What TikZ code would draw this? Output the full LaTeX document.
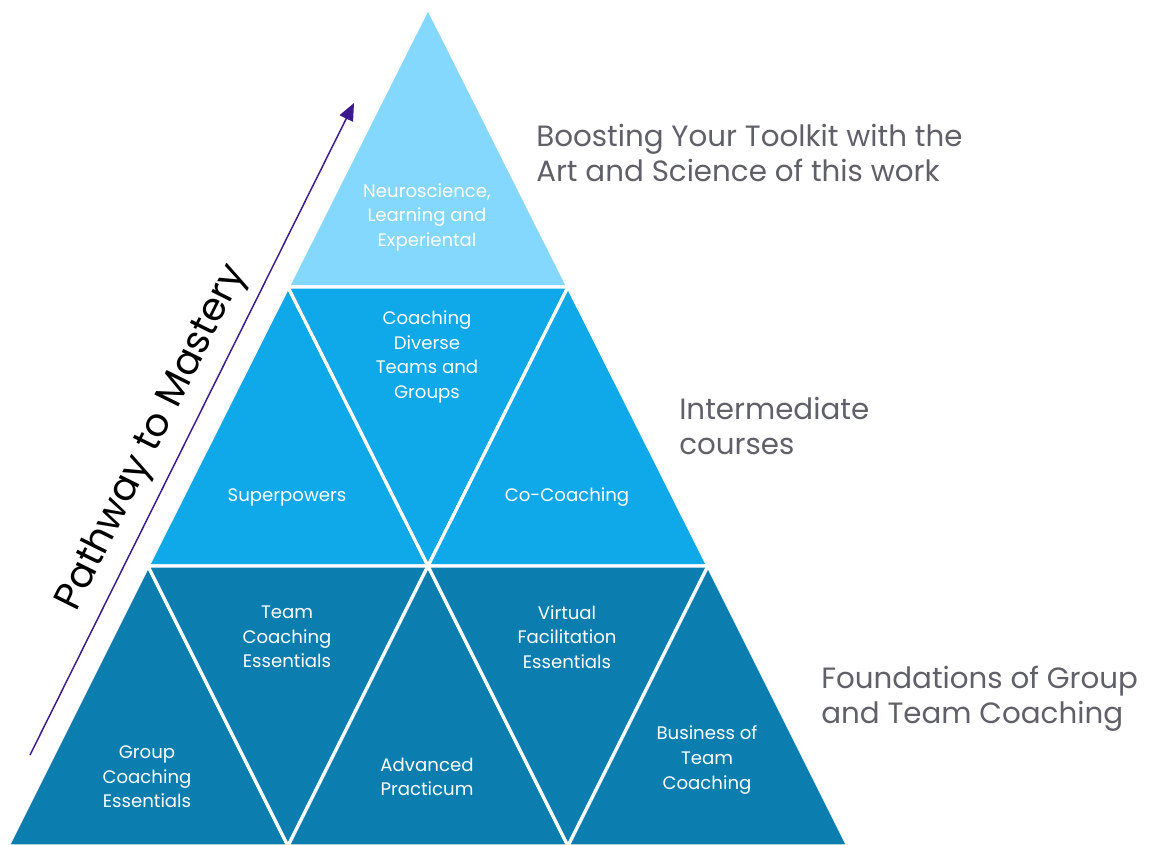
\documentclass[tikz,border=0pt]{standalone}
\usepackage{fontspec}
\setmainfont{Poppins}
\usetikzlibrary{arrows.meta}

\definecolor{tiptop}{HTML}{84D8FD}
\definecolor{midrow}{HTML}{0FA8E8}
\definecolor{baserow}{HTML}{0B7EAF}
\definecolor{sidegray}{HTML}{606168}
\definecolor{pathpurple}{HTML}{3A1A8C}

\begin{document}
\begin{tikzpicture}[x=0.75pt, y=-0.75pt,
    tri/.style={draw=white, line width=2.4pt, line join=round},
    course/.style={text=white, align=center, inner sep=0pt, font=\fontsize{13.6}{18.4}\selectfont},
    level/.style={text=sidegray, align=left, anchor=west, inner sep=0pt, font=\fontsize{22}{26.2}\selectfont}]

    \useasboundingbox (0,0) rectangle (1158,844);

    % corners of the pyramid, row by row
    \coordinate (t) at (428,8);
    \coordinate (r1) at (288,287);
    \coordinate (r2) at (568,287);
    \coordinate (s1) at (148,566);
    \coordinate (s2) at (428,566);
    \coordinate (s3) at (708,566);
    \coordinate (b1) at (8,846);
    \coordinate (b2) at (288,846);
    \coordinate (b3) at (568,846);
    \coordinate (b4) at (848,846);

    % top
    \fill[tiptop, tri] (t) -- (r1) -- (r2) -- cycle;
    % middle row
    \fill[midrow, tri] (r1) -- (s1) -- (s2) -- cycle;
    \fill[midrow, tri] (r1) -- (r2) -- (s2) -- cycle;
    \fill[midrow, tri] (r2) -- (s2) -- (s3) -- cycle;
    % bottom row
    \fill[baserow, tri] (s1) -- (b1) -- (b2) -- cycle;
    \fill[baserow, tri] (s1) -- (s2) -- (b2) -- cycle;
    \fill[baserow, tri] (s2) -- (b2) -- (b3) -- cycle;
    \fill[baserow, tri] (s2) -- (s3) -- (b3) -- cycle;
    \fill[baserow, tri] (s3) -- (b3) -- (b4) -- cycle;

    \node[course] (neuro) at (427,217) {Neuroscience,\\Learning and\\Experiental};
    \node[course] (diverse) at (427,357) {Coaching\\Diverse\\Teams and\\Groups};
    \node[course] (superpowers) at (287,497) {Superpowers};
    \node[course] (cocoaching) at (567,497) {Co-Coaching};
    \node[course] (teamess) at (287,637) {Team\\Coaching\\Essentials};
    \node[course] (virtual) at (567,637) {Virtual\\Facilitation\\Essentials};
    \node[course] (groupess) at (147,777) {Group\\Coaching\\Essentials};
    \node[course] (practicum) at (427,777) {Advanced\\Practicum};
    \node[course] (business) at (707,760) {Business of\\Team\\Coaching};

    \node[level] (toolkit) at (536,153) {Boosting Your Toolkit with the\\Art and Science of this work};
    \node[level] (intermediate) at (679,426) {Intermediate\\courses};
    \node[level] (foundations) at (821,699) {Foundations of Group\\and Team Coaching};

    % pathway arrow
    \coordinate (pstart) at (30,755);
    \coordinate (pend) at (354,103);
    \draw[pathpurple, line width=1.1pt, -{Triangle[length=13pt, width=11pt]}] (pstart) -- (pend)
        node[pos=0.465, sloped, above=5pt, text=black, font=\fontsize{29}{33}\selectfont] (pathway) {Pathway to Mastery};

\end{tikzpicture}
\end{document}
